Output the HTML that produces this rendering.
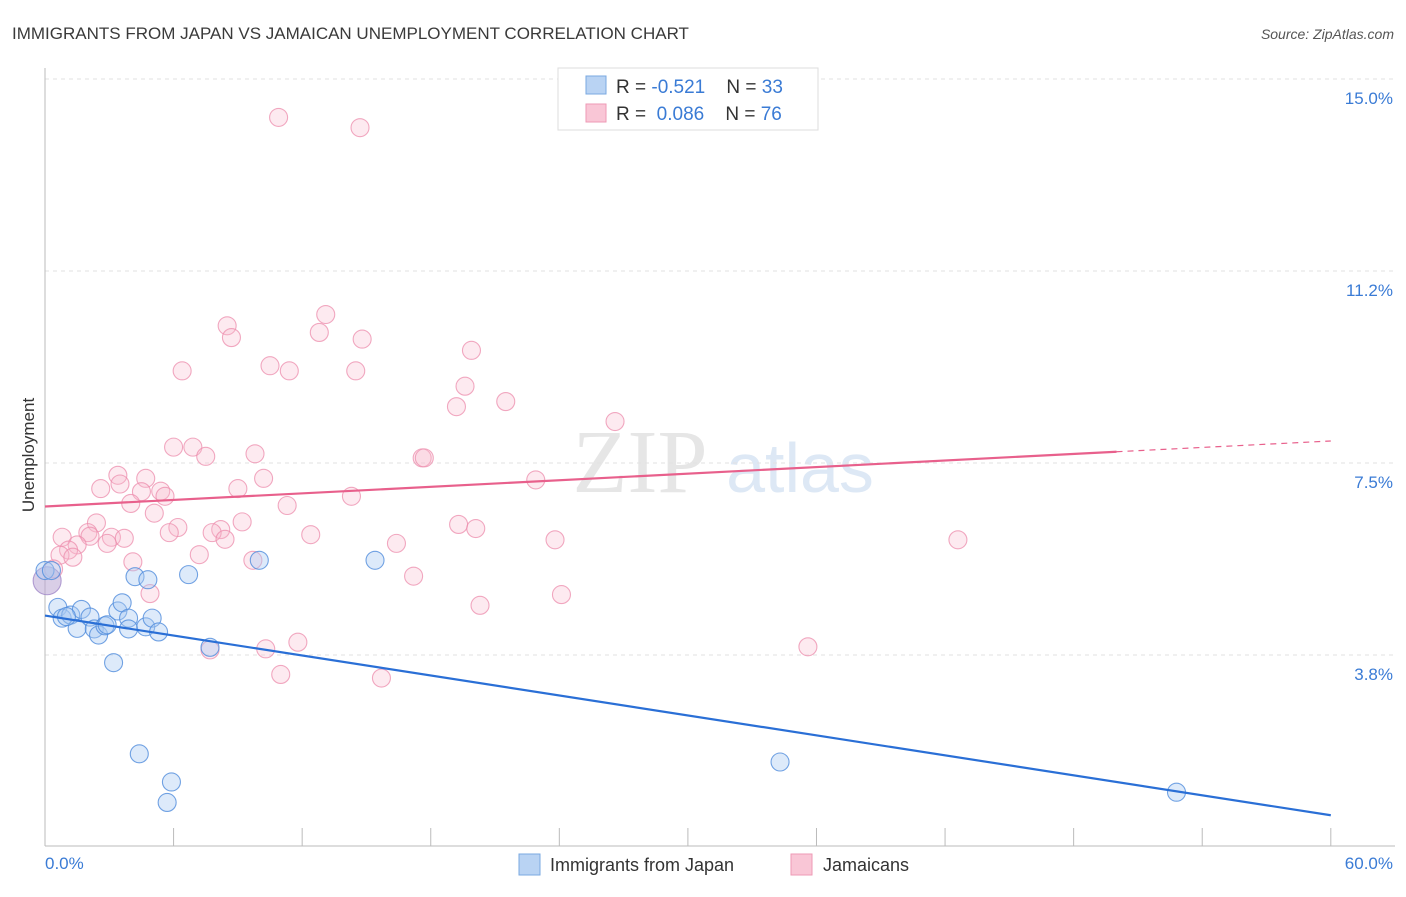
<!DOCTYPE html>
<html><head><meta charset="utf-8"><style>
body{margin:0;background:#fff;font-family:"Liberation Sans",sans-serif}
</style></head><body>
<svg width="1406" height="892" xmlns="http://www.w3.org/2000/svg">
<text x="12" y="39" font-size="17" fill="#3a3a3a">IMMIGRANTS FROM JAPAN VS JAMAICAN UNEMPLOYMENT CORRELATION CHART</text>
<text x="1394" y="39" font-size="14" fill="#555" font-style="italic" text-anchor="end">Source: ZipAtlas.com</text>
<text x="640" y="492" font-size="90" fill="#e6e6e6" font-family="Liberation Serif" text-anchor="middle">ZIP</text>
<text x="800" y="492" font-size="70" fill="#dde8f5" text-anchor="middle">atlas</text>
<g id="grid"></g>
<line x1="45" y1="68" x2="45" y2="846" stroke="#bbb"/>
<line x1="45" y1="846" x2="1395" y2="846" stroke="#bbb"/>
<text x="34" y="455" font-size="17" fill="#333" transform="rotate(-90 34 455)" text-anchor="middle">Unemployment</text>
<text x="45" y="869" font-size="17" fill="#3a7bd5">0.0%</text>
<text x="1393" y="869" font-size="17" fill="#3a7bd5" text-anchor="end">60.0%</text>
<g id="marks"></g>
<g>
<rect x="558" y="68" width="260" height="62" fill="#fff" stroke="#ddd"/>
<rect x="586" y="76" width="20" height="18" fill="#b9d3f3" stroke="#7aa8e0"/>
<rect x="586" y="104" width="20" height="18" fill="#f9c6d6" stroke="#ee9ab5"/>
<text x="616" y="93" font-size="19" fill="#333" xml:space="preserve">R = <tspan fill="#3a7bd5">-0.521</tspan>    N = <tspan fill="#3a7bd5">33</tspan></text>
<text x="616" y="120" font-size="19" fill="#333" xml:space="preserve">R =  <tspan fill="#3a7bd5">0.086</tspan>    N = <tspan fill="#3a7bd5">76</tspan></text>
</g>
<g>
<rect x="519" y="854" width="21" height="21" fill="#b9d3f3" stroke="#7aa8e0"/>
<text x="550" y="871" font-size="18" fill="#333">Immigrants from Japan</text>
<rect x="791" y="854" width="21" height="21" fill="#f9c6d6" stroke="#ee9ab5"/>
<text x="823" y="871" font-size="18" fill="#333">Jamaicans</text>
</g>
</svg>
<script>
const yTicks=[15.0,11.25,7.5,3.75];
const yTickLabels=["15.0%","11.2%","7.5%","3.8%"];
const japanX=[0.1,0.6,0.8,1.2,1.5,1.7,2.1,2.3,2.5,2.8,2.9,3.2,3.4,3.6,3.9,3.9,4.2,4.4,4.7,4.8,5.0,5.3,5.7,5.9,6.7,7.7,10.0,15.4,34.3,52.8,0.0,0.3,1.0];
const japanY=[5.2,4.68,4.47,4.53,4.27,4.64,4.49,4.26,4.14,4.32,4.34,3.6,4.61,4.77,4.47,4.26,5.28,1.82,4.3,5.22,4.47,4.2,0.87,1.27,5.32,3.9,5.6,5.6,1.66,1.07,5.4,5.4,4.5];
const jamX=[10.9,14.7,8.5,8.7,13.1,12.8,14.8,6.4,10.5,11.4,14.5,19.9,19.6,19.2,21.5,26.6,6.0,6.9,7.5,9.8,3.4,4.7,3.5,2.6,9.0,10.2,5.4,5.6,4.5,4.0,5.1,11.3,14.3,17.6,17.7,22.9,9.2,8.2,7.8,6.2,5.8,2.4,2.0,0.8,2.1,3.1,3.7,2.9,1.5,1.1,0.7,1.3,12.4,16.4,19.3,20.1,23.8,42.6,7.2,9.7,4.1,0.4,17.2,4.9,24.1,20.3,7.7,10.3,11.8,35.6,11.0,15.7,8.4];
const jamY=[14.25,14.05,10.18,9.95,10.4,10.05,9.92,9.3,9.4,9.3,9.3,9.7,9.0,8.6,8.7,8.31,7.81,7.81,7.63,7.68,7.26,7.2,7.09,7.0,7.0,7.2,6.95,6.85,6.94,6.71,6.52,6.67,6.85,7.6,7.6,7.17,6.35,6.2,6.14,6.24,6.14,6.33,6.14,6.05,6.07,6.05,6.03,5.93,5.9,5.8,5.7,5.66,6.1,5.93,6.3,6.22,6.0,6.0,5.71,5.6,5.57,5.43,5.29,4.95,4.93,4.72,3.85,3.87,4.0,3.91,3.37,3.3,6.01];
const fitJapan=[4.52,0.62];
const fitJam=[6.65,7.72,7.93];
const X=v=>45+v*21.43, Y=v=>847-v*51.2;
const NS="http://www.w3.org/2000/svg";
const grid=document.getElementById('grid'), marks=document.getElementById('marks');
function mk(tag,a,p){const e=document.createElementNS(NS,tag);for(const k in a)e.setAttribute(k,a[k]);p.appendChild(e);return e;}
yTicks.forEach((t,i)=>{
 const l=mk('line',{x1:45,x2:1395,y1:Y(t),y2:Y(t),stroke:'#e2e2e2','stroke-dasharray':'4,4'},grid);
 
 
 const tx=mk('text',{x:1393,y:Y(t)+25,'font-size':17,fill:'#3a7bd5','text-anchor':'end'},grid);
 tx.textContent=yTickLabels[i];
 
 
});
for(let i=0;i<=10;i++){
 const t=mk('line',{x1:X(i*6),x2:X(i*6),y1:828,y2:846,stroke:'#bbb'},grid);
 
 
}
jamX.forEach((v,i)=>{
 const c=mk('circle',{cx:X(v),cy:Y(jamY[i]),r:9,fill:'rgba(248,185,205,0.3)',stroke:'rgba(236,140,172,0.75)','stroke-width':1.1},marks);
 
 
});
japanX.forEach((v,i)=>{
 const c=mk('circle',{cx:X(v),cy:Y(japanY[i]),r:i==0?14:9,fill:i==0?'rgba(185,165,212,0.55)':'rgba(170,203,242,0.4)',stroke:i==0?'rgba(160,135,200,0.8)':'rgba(80,140,220,0.8)','stroke-width':1.1},marks);
 
 
});
const bl=mk('line',{x1:X(0),y1:Y(fitJapan[0]),x2:X(60),y2:Y(fitJapan[1]),stroke:'#2a6fd6','stroke-width':2.2},marks);


const pl=mk('line',{x1:X(0),y1:Y(fitJam[0]),x2:X(50),y2:Y(fitJam[1]),stroke:'#e8608c','stroke-width':2.2},marks);


const pd=mk('line',{x1:X(50),y1:Y(fitJam[1]),x2:X(60),y2:Y(fitJam[2]),stroke:'#e8608c','stroke-width':1.2,'stroke-dasharray':'6,5'},marks);


</script>
</body></html>
